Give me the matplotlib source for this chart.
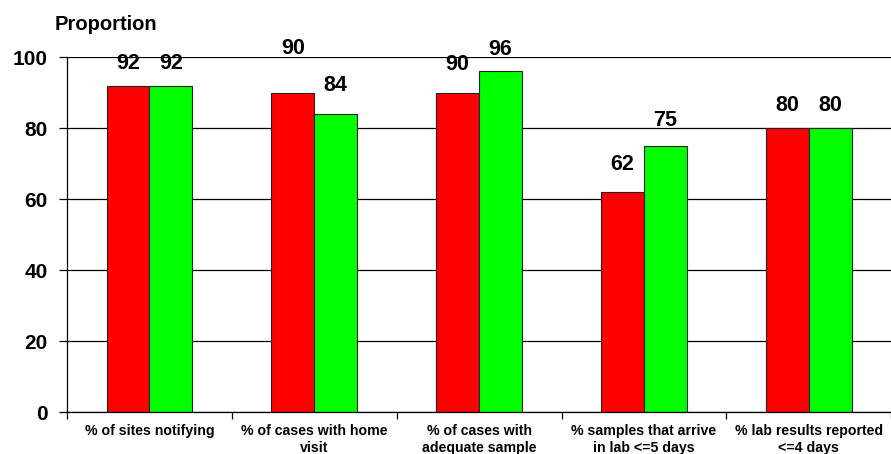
import matplotlib.pyplot as plt
import numpy as np

# Data
categories = [
    "% of sites notifying",
    "% of cases with home\nvisit",
    "% of cases with\nadequate sample",
    "% samples that arrive\nin lab <=5 days",
    "% lab results reported\n<=4 days",
]
red_values = [92, 90, 90, 62, 80]
green_values = [92, 84, 96, 75, 80]

plt.rcParams['font.family'] = ['Liberation Sans', 'DejaVu Sans']
plt.rcParams['font.weight'] = 'bold'

fig = plt.figure(figsize=(8.91, 4.54), dpi=100)
ax = fig.add_axes([0.0752, 0.0925, 0.925, 0.7815])

x = np.arange(len(categories))
width = 0.26

# Horizontal grid behind the bars
ax.set_axisbelow(True)
ax.yaxis.grid(True, color='black', linewidth=0.9)

red_bars = ax.bar(x - width / 2, red_values, width, color='#ff0000', edgecolor='#222222', linewidth=0.8)
green_bars = ax.bar(x + width / 2, green_values, width, color='#00ff00', edgecolor='#222222', linewidth=0.8)

# Value labels (small extra nudges in points, to follow the original)
red_nudge = [0, 16, 5, 4, 1]
green_nudge = [0, 5, 0, 3, 1]
for bars, nudge in ((red_bars, red_nudge), (green_bars, green_nudge)):
    for bar, extra in zip(bars, nudge):
        h = bar.get_height()
        ax.annotate(f"{h:g}", (bar.get_x() + bar.get_width() / 2, h),
                    xytext=(0, 8 + extra), textcoords='offset points',
                    ha='center', va='bottom', fontsize=15.5, fontweight='bold')

ax.set_xlim(-0.5, len(categories) - 0.5)
ax.set_ylim(0, 100)
ax.set_yticks(range(0, 101, 20))
ax.tick_params(axis='y', labelsize=15, length=6, width=0.9, pad=8)

# Category labels centered, ticks at the category boundaries
ax.set_xticks(x)
ax.set_xticklabels(categories, fontsize=10.2, fontweight='bold', linespacing=1.3)
ax.tick_params(axis='x', length=0, pad=8.5)
ax.set_xticks(np.arange(-0.5, len(categories)), minor=True)
ax.tick_params(axis='x', which='minor', length=5, width=0.9)

for side in ('top', 'right'):
    ax.spines[side].set_visible(False)
ax.spines['left'].set_linewidth(0.9)
ax.spines['bottom'].set_linewidth(0.9)

fig.text(55 / 891, 1 - 24 / 454, "Proportion", fontsize=14.5, fontweight='bold', va='center', ha='left')

fig.savefig("out.png", dpi=100)
